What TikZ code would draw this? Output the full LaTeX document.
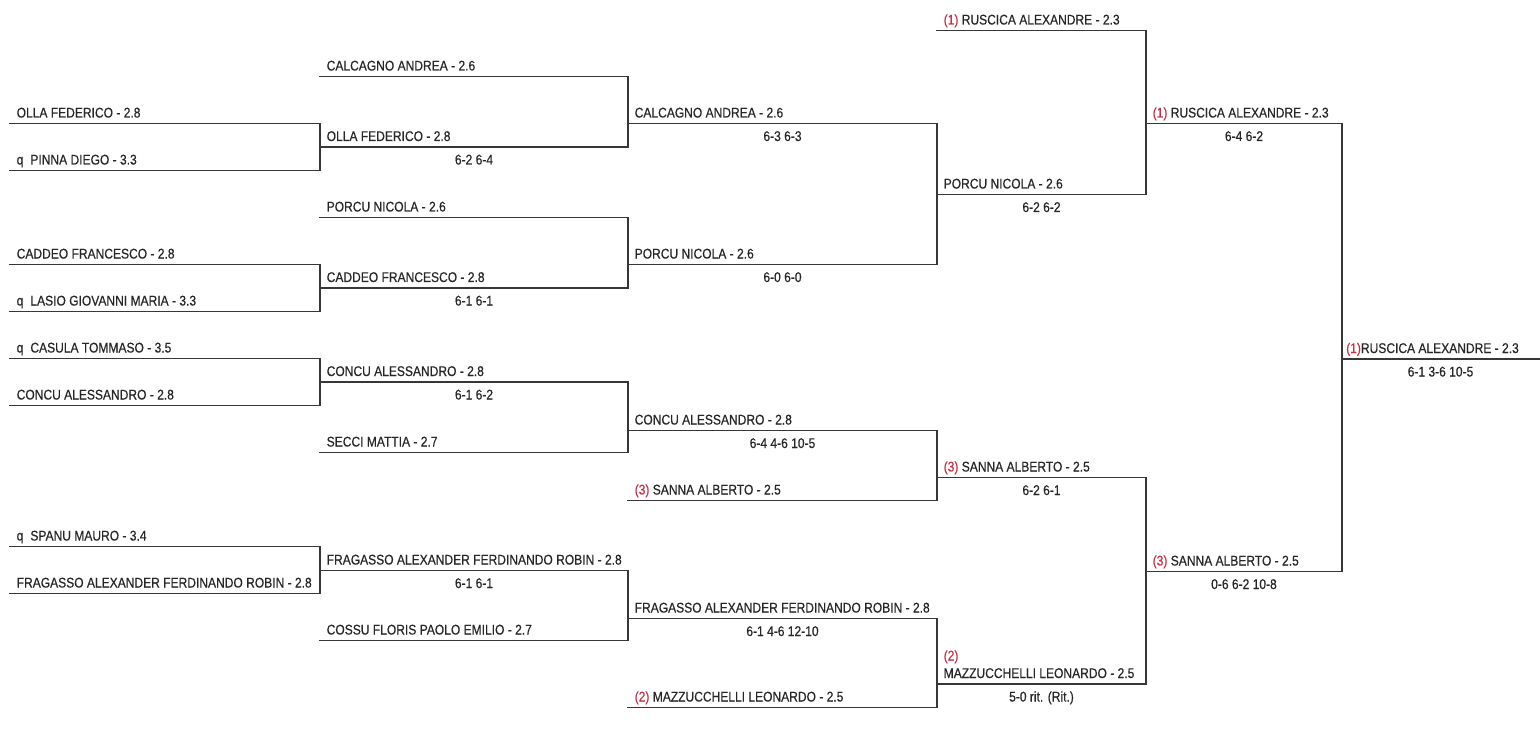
\documentclass[tikz,border=0pt]{standalone}
\usepackage{fontspec}
\setmainfont{Liberation Sans}[FakeStretch=0.86,FakeBold=0.4]
\usetikzlibrary{calc}
\definecolor{ink}{RGB}{38,38,38}
\definecolor{lineink}{RGB}{55,55,55}
\definecolor{seedred}{RGB}{200,50,70}
\newcommand\sd[1]{{\color{seedred}(#1)}}
\newcommand\qq{q\hspace{7pt}}
\newcommand\slot[5]{%
  \coordinate (#1l) at (#2,#4);
  \coordinate (#1r) at (#3,#4);
  \draw[bline] (#1l) -- (#1r);
  \node[nametext] (#1t) at ($(#1l)+(6.5,-6)$) {#5};
}
\newcommand\score[2]{%
  \node[scoretext] (#1s) at ($(#1l)!0.5!(#1r)+(0,17.5)$) {#2};
}
\tikzset{
  bline/.style={draw=lineink, line width=1.2pt, line cap=rect},
  nametext/.style={anchor=base west, inner sep=0pt, text=ink, font=\fontsize{14}{17}\selectfont},
  scoretext/.style={anchor=base, inner sep=0pt, text=ink, font=\fontsize{14}{17}\selectfont},
}
\begin{document}
\begin{tikzpicture}[x=1pt,y=-1pt]
\useasboundingbox[fill=white] (0,0) rectangle (1540,730);
% column 0
\slot{a1}{10}{320}{123.5}{OLLA FEDERICO - 2.8}
\slot{a2}{10}{320}{170.5}{\qq PINNA DIEGO - 3.3}
\slot{a3}{10}{320}{264.5}{CADDEO FRANCESCO - 2.8}
\slot{a4}{10}{320}{311.5}{\qq LASIO GIOVANNI MARIA - 3.3}
\slot{a5}{10}{320}{358.5}{\qq CASULA TOMMASO - 3.5}
\slot{a6}{10}{320}{405.5}{CONCU ALESSANDRO - 2.8}
\slot{a7}{10}{320}{546.5}{\qq SPANU MAURO - 3.4}
\slot{a8}{10}{320}{593.5}{FRAGASSO ALEXANDER FERDINANDO ROBIN - 2.8}
\draw[bline] (a1r) -- (a2r);
\draw[bline] (a3r) -- (a4r);
\draw[bline] (a5r) -- (a6r);
\draw[bline] (a7r) -- (a8r);
% column 1
\slot{b1}{320}{628}{76.5}{CALCAGNO ANDREA - 2.6}
\slot{b2}{320}{628}{147}{OLLA FEDERICO - 2.8}
\score{b2}{6-2 6-4}
\slot{b3}{320}{628}{217.5}{PORCU NICOLA - 2.6}
\slot{b4}{320}{628}{288}{CADDEO FRANCESCO - 2.8}
\score{b4}{6-1 6-1}
\slot{b5}{320}{628}{382}{CONCU ALESSANDRO - 2.8}
\score{b5}{6-1 6-2}
\slot{b6}{320}{628}{452.5}{SECCI MATTIA - 2.7}
\slot{b7}{320}{628}{570.5}{FRAGASSO ALEXANDER FERDINANDO ROBIN - 2.8}
\score{b7}{6-1 6-1}
\slot{b8}{320}{628}{640.5}{COSSU FLORIS PAOLO EMILIO - 2.7}
\draw[bline] (b1r) -- (b2r);
\draw[bline] (b3r) -- (b4r);
\draw[bline] (b5r) -- (b6r);
\draw[bline] (b7r) -- (b8r);
% column 2
\slot{c1}{628}{937}{123.5}{CALCAGNO ANDREA - 2.6}
\score{c1}{6-3 6-3}
\slot{c2}{628}{937}{264.5}{PORCU NICOLA - 2.6}
\score{c2}{6-0 6-0}
\slot{c3}{628}{937}{430.5}{CONCU ALESSANDRO - 2.8}
\score{c3}{6-4 4-6 10-5}
\slot{c4}{628}{937}{500.5}{\sd{3} SANNA ALBERTO - 2.5}
\slot{c5}{628}{937}{618.5}{FRAGASSO ALEXANDER FERDINANDO ROBIN - 2.8}
\score{c5}{6-1 4-6 12-10}
\slot{c6}{628}{937}{707.5}{\sd{2} MAZZUCCHELLI LEONARDO - 2.5}
\draw[bline] (c1r) -- (c2r);
\draw[bline] (c3r) -- (c4r);
\draw[bline] (c5r) -- (c6r);
% column 3
\slot{d1}{937}{1146}{30.5}{\sd{1} RUSCICA ALEXANDRE - 2.3}
\slot{d2}{937}{1146}{194.5}{PORCU NICOLA - 2.6}
\score{d2}{6-2 6-2}
\slot{d3}{937}{1146}{477.5}{\sd{3} SANNA ALBERTO - 2.5}
\score{d3}{6-2 6-1}
\slot{d4}{937}{1146}{684}{MAZZUCCHELLI LEONARDO - 2.5}
\node[nametext] (d4seed) at ($(d4t.base west)+(0,-17.5)$) {\sd{2}};
\score{d4}{5-0 rit. (Rit.)}
\draw[bline] (d1r) -- (d2r);
\draw[bline] (d3r) -- (d4r);
% column 4
\slot{e1}{1146}{1342}{123.5}{\sd{1} RUSCICA ALEXANDRE - 2.3}
\score{e1}{6-4 6-2}
\slot{e2}{1146}{1342}{571.5}{\sd{3} SANNA ALBERTO - 2.5}
\score{e2}{0-6 6-2 10-8}
\draw[bline] (e1r) -- (e2r);
% column 5
\coordinate (f1l) at (1342,359);
\coordinate (f1r) at (1539,359);
\draw[bline] (f1l) -- (f1r);
\node[nametext] (f1t) at ($(f1l)+(4,-6)$) {\sd{1}RUSCICA ALEXANDRE - 2.3};
\score{f1}{6-1 3-6 10-5}
\end{tikzpicture}
\end{document}
